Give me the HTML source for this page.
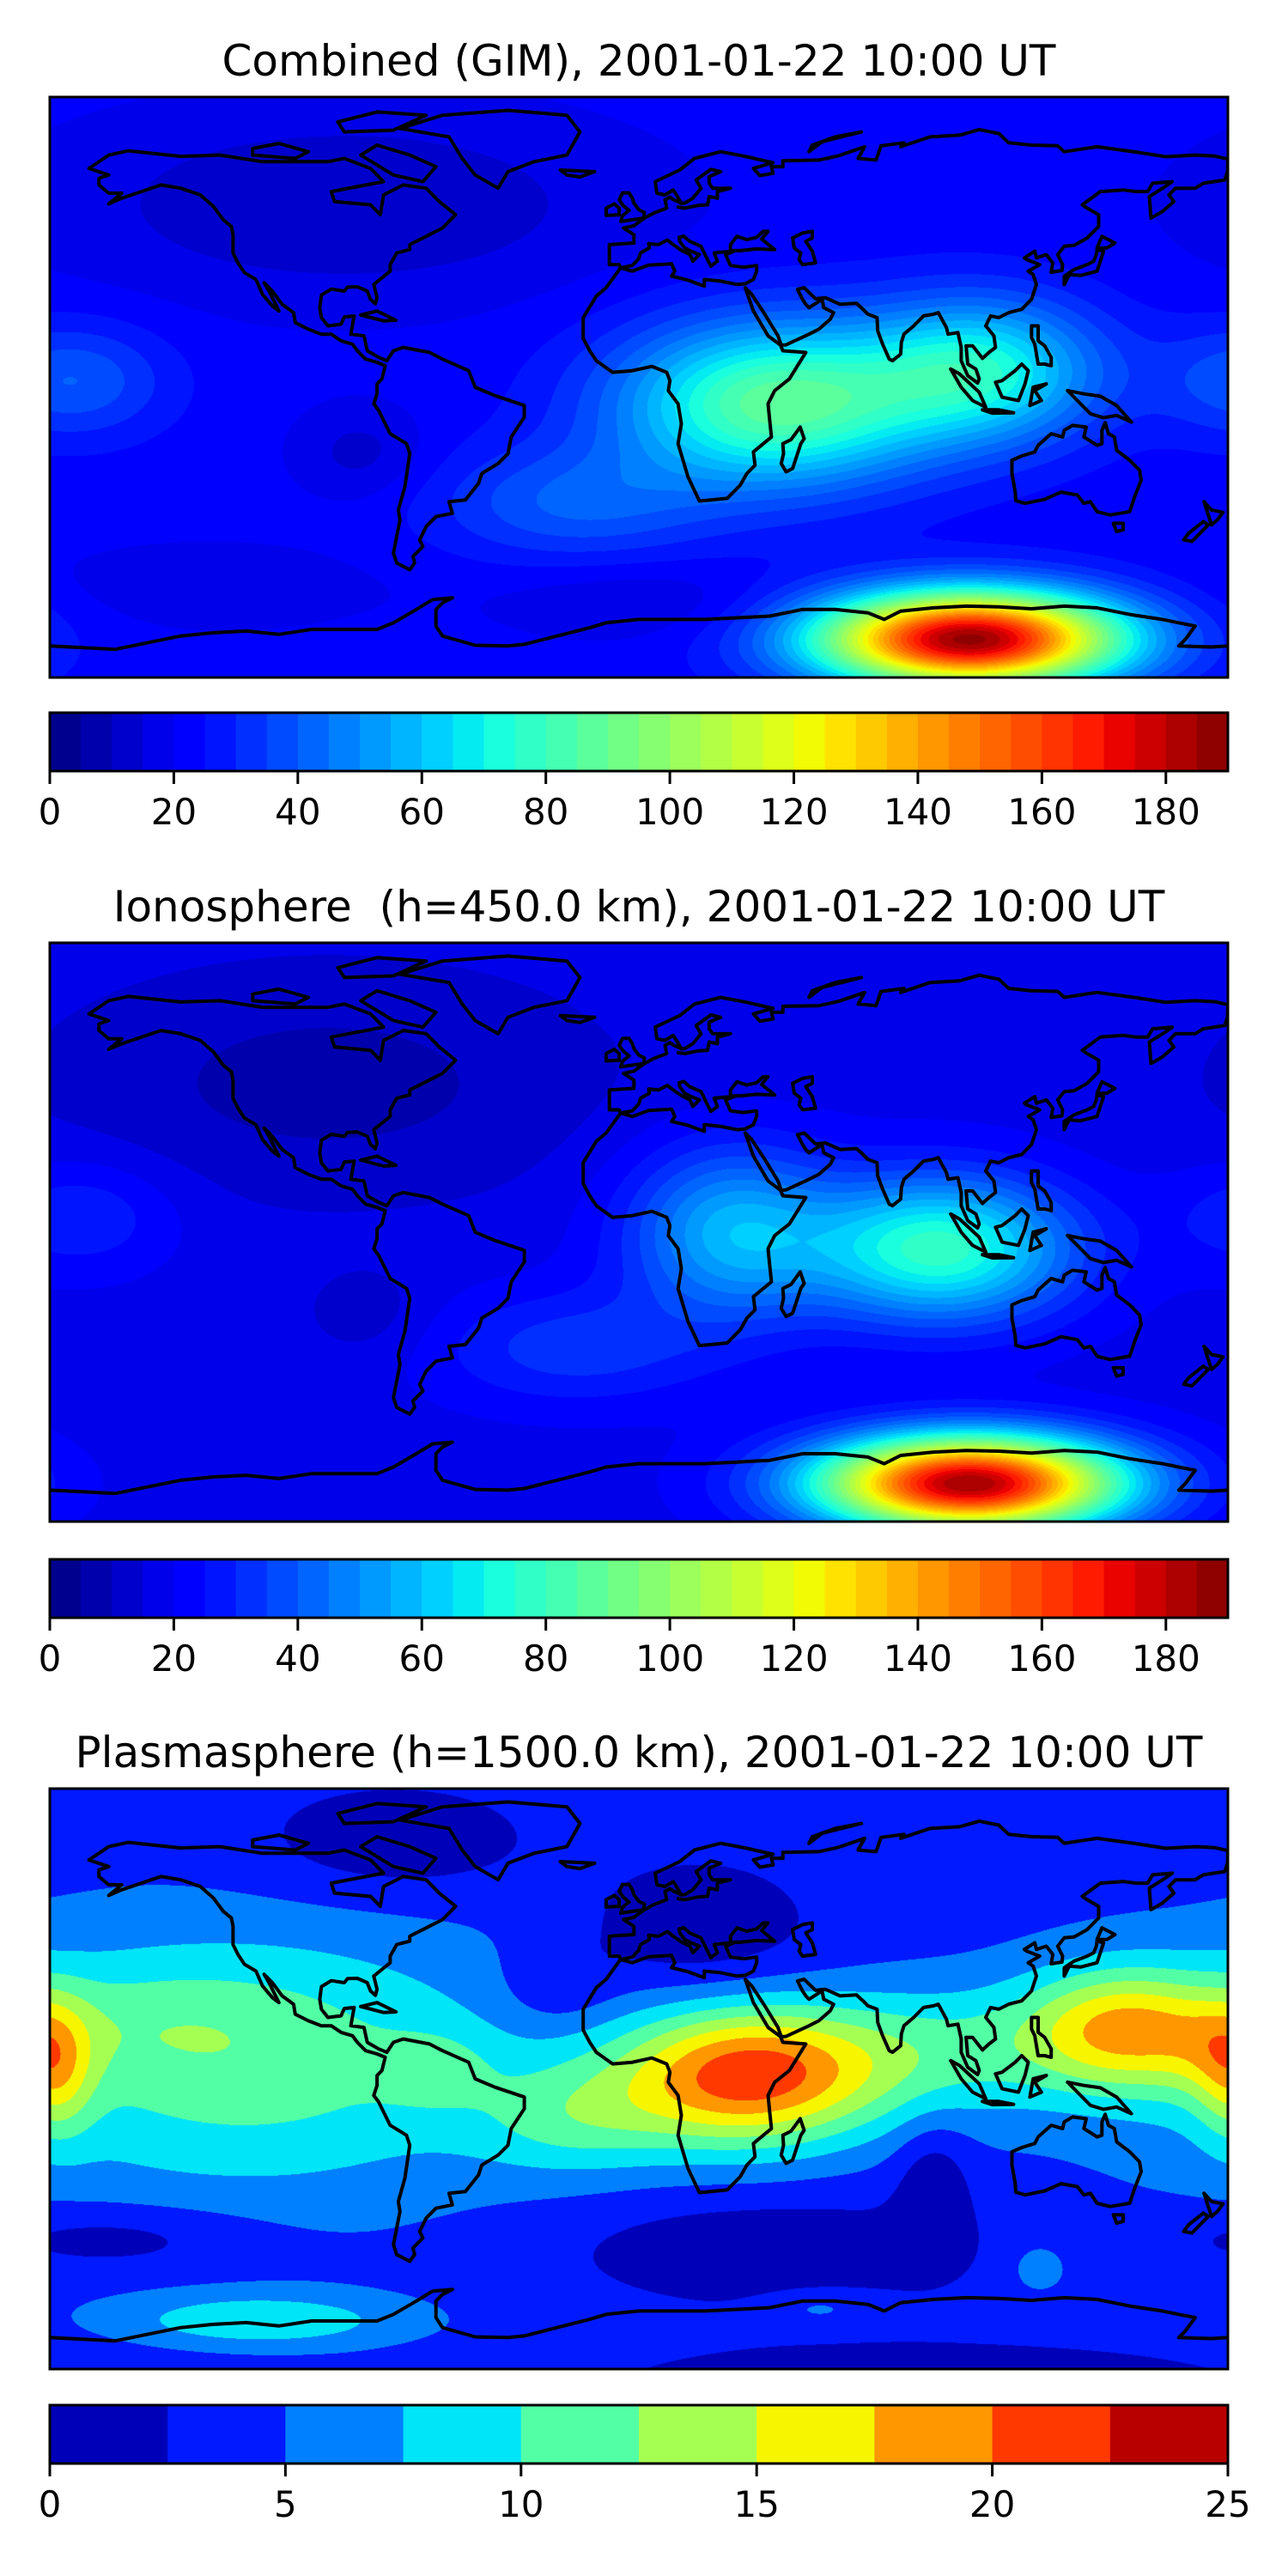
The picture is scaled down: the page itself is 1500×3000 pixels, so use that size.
<!DOCTYPE html>
<html><head><meta charset="utf-8">
<style>
html,body{margin:0;padding:0;background:#fff;}
#root{position:relative;width:1500px;height:3000px;overflow:hidden;background:#fff;}
canvas{position:absolute;display:block;}
#overlay{position:absolute;left:0;top:0;}
</style></head>
<body>
<div id="root">
<canvas id="map1" width="1372" height="676" style="left:58px;top:113px"></canvas>
<canvas id="map2" width="1372" height="674" style="left:58px;top:1098px"></canvas>
<canvas id="map3" width="1372" height="676" style="left:58px;top:2083px"></canvas>
<svg id="overlay" width="1500" height="3000" xmlns="http://www.w3.org/2000/svg" font-family="DejaVu Sans, Liberation Sans, sans-serif">
<text x="744" y="88" text-anchor="middle" font-size="50" xml:space="preserve">Combined (GIM), 2001-01-22 10:00 UT</text>
<text x="744" y="1073" text-anchor="middle" font-size="50" xml:space="preserve">Ionosphere  (h=450.0 km), 2001-01-22 10:00 UT</text>
<text x="744" y="2058" text-anchor="middle" font-size="50" xml:space="preserve">Plasmasphere (h=1500.0 km), 2001-01-22 10:00 UT</text>
<g id="layers"></g>
</svg>
</div>
<script>
// ---------- map extent ----------
const LAT_TOP = 87.5, LAT_BOT = -87.5;

// ---------- colorbar data ----------
const levels1Min = 0, levels1Max = 190, levels1Step = 5;
const ticks1 = [0,20,40,60,80,100,120,140,160,180];
const levels3Min = 0, levels3Max = 25, levels3Step = 2.5;
const ticks3 = [0,5,10,15,20,25];

// ---------- field blobs (lon, lat, amplitude, lon-width, lat-width) ----------
const base1 = 22;
const blobLon1 = [42, 105, -20, -90, -85, -173, -130, 101, 0];
const blobLat1 = [-5, 5, -35, 55, -20, 2, -60, -76, -65];
const blobAmp1 = [66, 48, 18, -12, -9, 18, -5, 165, -7];
const blobSx1  = [33, 25, 30, 60, 14, 20, 40, 32, 30];
const blobSy1  = [17, 15, 12, 20, 10, 12, 10, 10, 8];

const base2 = 18;
const blobLon2 = [92, 28, -20, -95, -83, -170, 101];
const blobLat2 = [-5, 0, -35, 45, -25, 5, -76];
const blobAmp2 = [60, 38, 15, -10, -6, 12, 167];
const blobSx2  = [28, 22, 30, 60, 14, 20, 32];
const blobSy2  = [15, 18, 12, 25, 10, 12, 10];

const base3 = 4;
const blobLon3 = [33, -120, -178, -62, -20, 90, 148, 172, -75, 18, -25, 40, 90, -160, 90, 122, 55, -116, -150];
const blobLat3 = [1, 5, 2, 3, -12, 8, 15, 8, 72, 44, 28, -52, -32, -48, -92, -57, -69, -73, 18];
const blobAmp3 = [17, 7.5, 7, 3, 5, 5.5, 12, 2, -3.5, -3.5, -2.5, -3.5, -3.5, -3, -3, 2.5, 2.5, 5.5, 2];
const blobSx3  = [28, 60, 8, 12, 22, 30, 22, 10, 30, 26, 12, 45, 8, 30, 80, 7, 12, 32, 30];
const blobSy3  = [15, 28, 14, 8, 12, 14, 13, 10, 12, 16, 9, 12, 14, 7, 10, 6, 4, 6, 12];

// ---------- coastlines (lon,lat) ----------
const coastNAmerica = [[-168,66],[-162,70],[-156,71.3],[-140,69.6],[-128,70],[-115,68],[-95,68],[-90,69],[-82,66],[-78,62],[-94,59],[-93,56],[-82,55],[-79,52],[-78,58],[-72,61],[-65,60],[-61,56],[-56,52],[-60,48],[-66,45],[-70,43],[-70,41.5],[-74,40.5],[-76,37],[-76,35],[-81,31],[-80,27],[-80.5,25.2],[-82,26.5],[-83,29],[-86,30.3],[-89,30.2],[-90,29],[-94,29.6],[-97,27.8],[-97.5,24],[-97,21],[-95,18.5],[-91,19],[-90,21.2],[-87,21.5],[-88,16],[-84,15.5],[-83,11],[-79.5,9],[-77,8],[-75,11],[-72,12],[-64,10.5],[-60,8.5],[-52,5],[-50,0],[-44,-2.5],[-35,-5.5],[-35,-9],[-39,-15],[-40,-20],[-43,-23],[-48,-26],[-49,-29],[-53,-34],[-58,-34.5],[-57,-38],[-62,-39],[-65,-42],[-67,-46],[-66,-48],[-69,-51],[-68.5,-53],[-70,-55],[-74,-53],[-75,-50],[-74,-45],[-73,-40],[-73.5,-37],[-71.5,-30],[-70,-20],[-71,-17],[-76,-14],[-79.5,-7],[-81,-5],[-80,-2],[-80,1],[-78.5,2.5],[-77.5,6.5],[-80,7.5],[-83.5,8.5],[-86,11],[-87.5,13],[-91,14],[-94,16],[-97,16],[-101,17.5],[-105,19.5],[-105.5,22.5],[-109,25],[-112,29],[-114.5,31.5],[-113,29],[-110,23],[-112,24.5],[-115,28],[-117,32.5],[-120.5,34.5],[-122.5,37.5],[-124,40.5],[-124,46],[-124.5,48.5],[-127,50.5],[-130,54.5],[-134,58],[-140,60],[-146,61],[-152,59],[-158,57],[-162,55.3],[-158,58.5],[-162,58.5],[-165,61],[-165,63],[-162,64],[-168,66]];
const coastGreenland = [[-73,78],[-60,82],[-40,83.5],[-22,82],[-18,77],[-22,70],[-32,68],[-40,65],[-43,60],[-50,64],[-54,69],[-58,75.5],[-73,78]];
const coastBaffin = [[-80,73],[-70,70],[-62,66.5],[-66,62],[-75,64],[-85,70],[-80,73]];
const coastVictoria = [[-118,70],[-105,69],[-101,71],[-110,73.5],[-118,72],[-118,70]];
const coastEllesmere = [[-90,77],[-75,77.5],[-65,82],[-80,83],[-92,80],[-90,77]];
const coastCuba = [[-85,21.8],[-80,23],[-74.2,20.2],[-78,20],[-85,21.8]];
const coastIceland = [[-24,65.5],[-13.5,65],[-18,63.4],[-22,64],[-24,65.5]];
const coastAfroEurasia = [[-5.6,36],[-10,30],[-13,27.5],[-17,21],[-17,14.7],[-15,11],[-13,8],[-8,4.5],[-2,5],[4,6.3],[8.5,4.5],[9.5,2],[9,-1],[12,-5],[13,-11],[12,-17],[15,-27],[18.5,-34.3],[22,-34],[27,-33.5],[31,-29.5],[33,-26],[35.5,-23.5],[35,-19.5],[40.5,-15],[40,-10],[39.5,-5],[41.5,-1],[46,2.5],[51,10.5],[44,11],[43.3,12.7],[39.5,15.5],[35,23],[32.5,30],[34.5,28],[38.5,22],[42.5,15.5],[43.5,12.7],[45,12.8],[52,16],[55,17.5],[58.5,20.5],[59.5,22.5],[56.5,24],[56,26.5],[52,24],[51,25],[50,26.5],[48.5,29.5],[50.5,30],[54,26.7],[57,27],[61.5,25],[66.5,25.3],[68.5,23.5],[70,22],[72.8,21],[73,17],[74.5,13],[76.5,8.5],[77.5,8],[80,10],[80.2,13.5],[81,16],[84,18.5],[87,21.5],[90,22],[91.5,22.5],[94,18],[94.5,16],[97.5,16.5],[98.5,12],[98.5,8],[100.5,3.5],[103.5,1.3],[104,2.5],[103,5.5],[100.5,7],[100,12.5],[102,12.5],[105,8.7],[107,10.5],[109,12],[108.5,15.5],[106,18.5],[107.5,21.5],[110,21],[113,22.5],[117,23.5],[120,26.5],[121.5,31],[120.5,34],[119,35],[122.5,37],[118.5,38.5],[117.8,39],[121,41],[121.5,39],[124.5,40],[126.5,37.5],[126,34.7],[129.3,35.2],[129.5,37],[128,40],[130,42.5],[133,42.8],[137,45],[140.5,48.5],[140.5,52],[137,54],[135.5,55],[141,59],[148,59.5],[152,59],[155.5,59],[157,61.5],[163,62],[160.5,60.3],[156,57.5],[156.5,51],[160,53],[163.5,56],[162,58],[164,60],[170,60],[172.5,61.5],[179,62.5],[179.9,65],[180,68.8],[176,69.7],[170,70],[161,69.5],[152,70.9],[140,72.5],[130,71],[128,72.8],[120,73],[113,73.7],[110,76.5],[104,77.7],[98,76],[89,75.5],[80,72.5],[81,73.7],[74,72.8],[72.5,68.5],[67,69],[69,72.5],[61,69.8],[55,68.5],[44,68.3],[44,66.5],[40.5,66.5],[41,64.5],[37,63.8],[35,66],[41,67.7],[33,69.5],[25,71],[17,69],[12.5,65.5],[5,62],[5.5,58.5],[8,58],[10.5,59.5],[11.5,58],[13,55.5],[10.7,56.5],[9.5,57.3],[8,56.5],[8.5,54],[4.5,52.5],[1.7,51],[-1.5,48.7],[-4.7,48],[-1.5,46],[-1.5,43.5],[-9,43],[-9,39],[-9,37],[-6,37],[-5.6,36]];
const coastMediterranean = [[-5.6,36],[-2,35],[3,36.8],[10,37.2],[11,35],[10,33.5],[15,32.3],[20,30.5],[20,32.5],[25,32],[30,31],[32.5,31.2],[35,32.5],[36,35],[36,36.7],[32,36.2],[28,36.7],[26.5,40],[29,41],[26,40.8],[23,40.5],[24,38],[22,36.5],[21,38.5],[19.5,41.5],[19,42.5],[15.5,44],[13.7,45.6],[12.3,45.2],[12.5,44],[14,42],[16,41],[18.5,40],[16.5,38],[15.6,40],[13,41.3],[10.5,43],[8.7,44.4],[6,43],[3,43.3],[3.2,42],[0.5,40.5],[0,38.8],[-2,36.7],[-5.6,36]];
const coastBlackSea = [[28,41.2],[28,43],[30,45.5],[33,44.5],[36,45.2],[38,47],[39.5,47],[37.5,44.7],[41.5,41.5],[36,41.7],[31,41.2],[28,41.2]];
const coastCaspian = [[47,45],[50,46.5],[53,47],[53,45],[51,44],[53,41],[54,37.5],[50,37],[49,38.5],[49.5,40.5],[47.5,42],[47,45]];
const coastBaltic = [[12,54.3],[14,54],[18,54.8],[21,55],[21.5,57.5],[24,57],[24,59],[28,60],[22.5,60],[21.5,61.5],[21.5,63.5],[25,65],[22,65.7],[17.5,62.5],[19,60],[16.5,57],[14,55.5],[12.8,55.5]];
const coastBritain = [[-5.5,50],[1.5,51],[1.7,52.7],[0,53.5],[-1.5,55.5],[-2,57],[-3,58.6],[-5,58.6],[-6,56.5],[-4.8,54.8],[-3,53.3],[-5,51.7],[-5.5,50]];
const coastIreland = [[-6,52],[-6,54],[-7.5,55.3],[-10,54],[-10,51.8],[-6,52]];
const coastNovaya = [[52,71],[56,74],[68,77],[60,75.5],[53,73],[52,71]];
const coastJapan = [[130,31],[131.5,34],[135,33.7],[140,35],[141,38],[142,41],[140,41.5],[139.8,40],[139,38],[137,37],[133,35.5],[130,33.5],[130,31]];
const coastHokkaido = [[140,42],[141.5,45.5],[145.5,43.5],[143,42],[140,42]];
const coastPhilippines = [[120,18.5],[122,18.5],[122,14],[124,12.5],[126,9],[126,6.5],[124,7],[122,7],[121,13],[120,15],[120,18.5]];
const coastBorneo = [[109,1.5],[111,-3],[116,-4],[118,1],[119,5],[117,7],[115,5],[111,2],[109,1.5]];
const coastSumatra = [[95.3,5.5],[98,4],[104,-1.5],[106,-6],[102,-4],[98.5,0],[95.3,5.5]];
const coastJava = [[105,-6.8],[110,-6.8],[114.5,-7.7],[108,-7.8],[105,-6.8]];
const coastSulawesi = [[119.5,-5.5],[120.5,0],[124.5,1],[121,-1],[123,-4],[119.5,-5.5]];
const coastNewGuinea = [[131,-1],[136,-2],[141,-2.7],[146,-5.5],[150.5,-10.5],[146,-8.5],[142,-9.2],[138,-8],[134,-4],[131,-1]];
const coastAustralia = [[114,-22],[114,-26],[115,-31.5],[115.2,-34.2],[118,-35],[124,-33.8],[129,-31.6],[134,-32.5],[136,-35],[138,-34.5],[140,-37.5],[144,-38.5],[147,-38],[150,-37.5],[151.5,-33],[153.5,-28],[153,-25],[150,-22],[146,-19],[145.3,-15],[143.5,-14],[142.5,-10.7],[141.5,-13],[141.5,-17],[140,-17.5],[136,-15],[136.7,-12],[132.5,-11.5],[130,-13],[129.5,-15],[126,-14],[122,-17.5],[121,-19.5],[117,-20.7],[114,-22]];
const coastTasmania = [[145,-41],[148,-41],[148,-43],[146,-43.5],[145,-41]];
const coastNZNorth = [[172.7,-34.5],[175,-37],[178.5,-37.7],[176.8,-40],[175,-41.5],[172.7,-34.5]];
const coastNZSouth = [[172.5,-40.5],[174,-41.5],[171,-44.5],[169,-46.5],[166.5,-46],[168,-44],[172.5,-40.5]];
const coastMadagascar = [[49.3,-12],[50.5,-15.5],[49.5,-17],[47,-24.5],[45,-25.5],[43.5,-23],[44.2,-20],[44,-17],[46.5,-15.8],[49.3,-12]];
const coastAntarctica = [[-180,-78],[-170,-78.5],[-160,-79],[-150,-77],[-140,-75],[-130,-74],[-120,-73.5],[-110,-74.5],[-100,-73],[-90,-73],[-80,-73],[-75,-71],[-68,-67],[-63,-64],[-57,-63.5],[-60,-65],[-62,-67],[-62,-72],[-60,-75],[-50,-77.8],[-40,-78],[-35,-77.5],[-25,-75],[-15,-72.5],[-10,-71],[0,-70],[10,-70],[20,-70],[30,-69.5],[40,-69],[50,-67],[60,-67],[70,-68],[75,-70],[80,-67.5],[90,-66.5],[100,-66],[110,-66.2],[120,-66.8],[130,-66],[140,-66.5],[150,-68.5],[160,-70],[165,-71],[170,-72],[167,-76],[165,-78],[175,-78.3],[180,-78]];
const coastlines = [coastNAmerica,coastGreenland,coastBaffin,coastVictoria,coastEllesmere,coastCuba,coastIceland,coastAfroEurasia,coastMediterranean,coastBlackSea,coastCaspian,coastBaltic,coastBritain,coastIreland,coastNovaya,coastJapan,coastHokkaido,coastPhilippines,coastBorneo,coastSumatra,coastJava,coastSulawesi,coastNewGuinea,coastAustralia,coastTasmania,coastNZNorth,coastNZSouth,coastMadagascar,coastAntarctica];

// ---------- helpers ----------
function interp(pts, v){
  for(let i=1;i<pts.length;i++){
    if(v<=pts[i][0]){const a=pts[i-1],b=pts[i];return a[1]+(b[1]-a[1])*(v-a[0])/(b[0]-a[0]);}
  }
  return pts[pts.length-1][1];
}
const JR=[[0,0],[0.35,0],[0.66,1],[0.89,1],[1,0.5]];
const JG=[[0,0],[0.125,0],[0.375,1],[0.64,1],[0.91,0],[1,0]];
const JB=[[0,0.5],[0.11,1],[0.34,1],[0.65,0],[1,0]];
function jet(v){return [Math.round(255*interp(JR,v)),Math.round(255*interp(JG,v)),Math.round(255*interp(JB,v))];}
function levelColors(min,max,step){
  const n=Math.round((max-min)/step), out=[];
  for(let i=0;i<n;i++) out.push(jet((i+0.5)/n));
  return out;
}

function drawField(id, base, bLon, bLat, bAmp, bSx, bSy, min, max, step){
  const cv=document.getElementById(id), ctx=cv.getContext('2d');
  const W=cv.width,H=cv.height, img=ctx.createImageData(W,H), d=img.data;
  const cols=levelColors(min,max,step), n=cols.length;
  const nb=bLon.length;
  for(let y=0;y<H;y++){
    const lat=LAT_TOP-(y+0.5)/H*(LAT_TOP-LAT_BOT);
    for(let x=0;x<W;x++){
      const lon=-180+(x+0.5)/W*360;
      let v=base;
      for(let k=0;k<nb;k++){
        let dl=lon-bLon[k]; if(dl>180)dl-=360; if(dl<-180)dl+=360;
        const dy=lat-bLat[k];
        v+=bAmp[k]*Math.exp(-(dl*dl/(2*bSx[k]*bSx[k])+dy*dy/(2*bSy[k]*bSy[k])));
      }
      let idx=Math.floor((v-min)/step); if(idx<0)idx=0; if(idx>n-1)idx=n-1;
      const c=cols[idx], p=(y*W+x)*4;
      d[p]=c[0];d[p+1]=c[1];d[p+2]=c[2];d[p+3]=255;
    }
  }
  ctx.putImageData(img,0,0);
}

const NS='http://www.w3.org/2000/svg';
const layers=document.getElementById('layers');
function mk(tag,attrs){const e=document.createElementNS(NS,tag);for(const k in attrs)e.setAttribute(k,attrs[k]);return e;}

function drawCoast(px,py,pw,ph,label){
  const g=mk('g',{});
  
  
  const cp=mk('clipPath',{id:label+'-clip'});
  cp.appendChild(mk('rect',{x:px,y:py,width:pw,height:ph}));
  g.appendChild(cp);
  const inner=mk('g',{'clip-path':'url(#'+label+'-clip)'});
  coastlines.forEach(c=>{
    const pts=c.map(p=>((px+(p[0]+180)/360*pw).toFixed(1))+','+((py+(LAT_TOP-p[1])/(LAT_TOP-LAT_BOT)*ph).toFixed(1))).join(' ');
    const pl=mk('polyline',{points:pts,fill:'none',stroke:'#000','stroke-width':4,'stroke-linejoin':'round','stroke-linecap':'round'});
    
    
    inner.appendChild(pl);
  });
  g.appendChild(inner);
  const fr=mk('rect',{x:px,y:py,width:pw,height:ph,fill:'none',stroke:'#000','stroke-width':3});
  
  
  g.appendChild(fr);
  layers.appendChild(g);
}

function drawColorbar(cx,cy,cw,chh,min,max,step,ticks,label){
  const g=mk('g',{});
  
  
  const cols=levelColors(min,max,step), n=cols.length;
  const xs=v=>cx+(v-min)/(max-min)*cw;
  for(let i=0;i<n;i++){
    const x0=xs(min+i*step), x1=xs(min+(i+1)*step);
    const r=mk('rect',{x:x0,y:cy,width:x1-x0+0.6,height:chh,fill:'rgb('+cols[i].join(',')+')'});
    
    
    g.appendChild(r);
  }
  const o=mk('rect',{x:cx,y:cy,width:cw,height:chh,fill:'none',stroke:'#000','stroke-width':3});
  
  
  g.appendChild(o);
  ticks.forEach(t=>{
    const x=xs(t);
    const l=mk('line',{x1:x,x2:x,y1:cy+chh,y2:cy+chh+15,stroke:'#000','stroke-width':3});
    
    
    g.appendChild(l);
    const tx=mk('text',{x:x,y:cy+chh+62,'text-anchor':'middle','font-size':42});
    
    
    tx.textContent=String(t);
    g.appendChild(tx);
  });
  layers.appendChild(g);
}

drawField('map1',base1,blobLon1,blobLat1,blobAmp1,blobSx1,blobSy1,levels1Min,levels1Max,levels1Step);
drawField('map2',base2,blobLon2,blobLat2,blobAmp2,blobSx2,blobSy2,levels1Min,levels1Max,levels1Step);
drawField('map3',base3,blobLon3,blobLat3,blobAmp3,blobSx3,blobSy3,levels3Min,levels3Max,levels3Step);
drawCoast(58,113,1372,676,'combined-map');
drawCoast(58,1098,1372,674,'ionosphere-map');
drawCoast(58,2083,1372,676,'plasmasphere-map');
drawColorbar(58,830,1372,68,levels1Min,levels1Max,levels1Step,ticks1,'colorbar-combined');
drawColorbar(58,1816,1372,68,levels1Min,levels1Max,levels1Step,ticks1,'colorbar-ionosphere');
drawColorbar(58,2801,1372,68,levels3Min,levels3Max,levels3Step,ticks3,'colorbar-plasmasphere');
</script>
</body></html>
